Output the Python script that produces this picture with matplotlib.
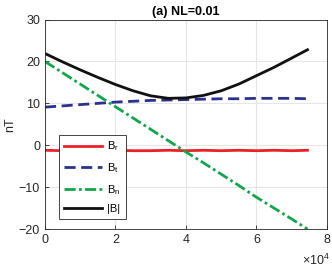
import matplotlib
matplotlib.use('Agg')
import matplotlib.pyplot as plt

plt.rcParams['font.family'] = ['Liberation Sans', 'DejaVu Sans']
plt.rcParams['mathtext.fontset'] = 'custom'
plt.rcParams['mathtext.rm'] = 'Liberation Sans'

# valores (x em unidades de 1e4)
x = [0, 0.5, 1, 1.5, 2, 2.5, 3, 3.5, 4, 4.5, 5, 5.5, 6, 6.5, 7, 7.45]
br = [-1.2, -1.3, -1.2, -1.3, -1.2, -1.3, -1.3, -1.2, -1.3, -1.2, -1.3, -1.2, -1.3, -1.2, -1.3, -1.2]
bt = [9.1, 9.4, 9.7, 10.0, 10.3, 10.5, 10.7, 10.8, 10.9, 11.0, 11.1, 11.1, 11.2, 11.2, 11.2, 11.1]
bn = [20.0, 17.3, 14.6, 11.9, 9.2, 6.5, 3.8, 1.1, -1.6, -4.2, -6.9, -9.6, -12.4, -15.0, -17.6, -20.0]
bmod = [21.9, 19.9, 18.0, 16.2, 14.5, 13.0, 11.8, 11.2, 11.3, 11.9, 13.0, 14.6, 16.6, 18.6, 20.8, 22.8]

xs = [v * 1e4 for v in x]

fig = plt.figure(figsize=(3.32, 2.72), dpi=100)
ax = fig.add_axes([0.1355, 0.158, 0.849, 0.77])

lw = 2.0
ax.plot(xs, br, '-', color='#ec2027', lw=lw, label=r'B$_\mathregular{r}$')
ax.plot(xs, bt, '--', color='#2b3190', lw=lw, dashes=(4, 2), label=r'B$_\mathregular{t}$')
ax.plot(xs, bn, '-.', color='#12a64c', lw=lw, dashes=(4, 1.2, 1, 1.2), label=r'B$_\mathregular{n}$')
ax.plot(xs, bmod, '-', color='#111111', lw=lw, label='|B|')

ax.set_xlim(0, 8e4)
ax.set_ylim(-20, 30)
ax.set_xticks([0, 2e4, 4e4, 6e4, 8e4])
ax.set_xticklabels(['0', '2', '4', '6', '8'])
ax.set_yticks([-20, -10, 0, 10, 20, 30])
ax.grid(True, color='#e6e6e6', lw=0.8)
ax.set_axisbelow(True)
ax.tick_params(direction='in', length=3, labelsize=9, colors='#262626', width=0.6)
for s in ax.spines.values():
    s.set_color('#262626')
    s.set_linewidth(0.6)

ax.set_ylabel('nT', fontsize=9, color='#262626', labelpad=2)
ax.set_title('(a) NL=0.01', fontsize=9, fontweight='bold', pad=3)
fig.text(0.995, 0.025, r'$\times$10$^\mathregular{4}$', fontsize=9, color='#262626', ha='right')

leg = ax.legend(loc='lower left', bbox_to_anchor=(0.03, 0.02), fontsize=8,
                fancybox=False, edgecolor='#262626', framealpha=1,
                handlelength=3.4, labelspacing=0.7, borderpad=0.45, handletextpad=0.5)
leg.get_frame().set_linewidth(0.6)

fig.savefig('out.png', dpi=100)
